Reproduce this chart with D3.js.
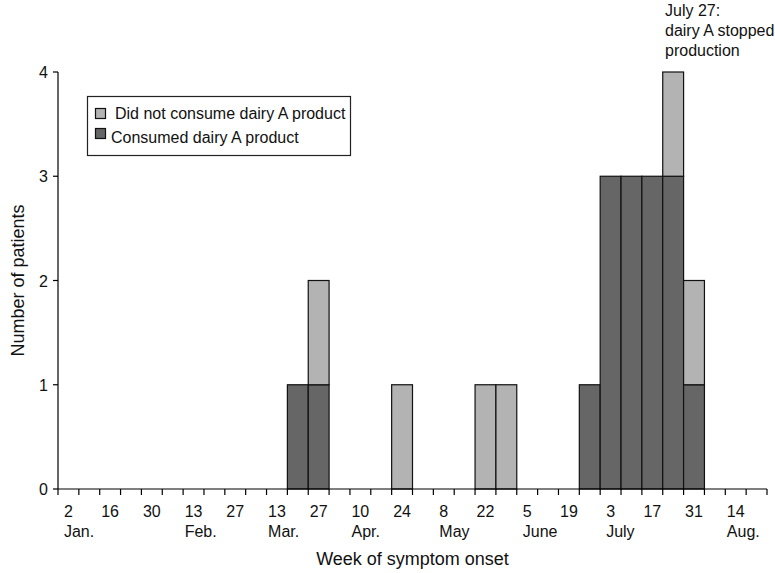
<!DOCTYPE html>
<html>
<head>
<meta charset="utf-8">
<script src="https://cdn.jsdelivr.net/npm/d3@7"></script>
<style>
  html, body { margin: 0; padding: 0; background: #fff; }
  svg { display: block; font-family: "Liberation Sans", Arial, Helvetica, sans-serif; }
</style>
</head>
<body>
<svg id="chart" width="775" height="573"></svg>
<script>
// ---- data ----
const nWeeks = 34; // weekly bins starting Jan 2
const consumed =    [0,0,0,0,0,0,0,0,0,0,0,1,1,0,0,0,0,0,0,0,0,0,0,0,0,1,3,3,3,3,1,0,0,0];
const notConsumed = [0,0,0,0,0,0,0,0,0,0,0,0,1,0,0,0,1,0,0,0,1,1,0,0,0,0,0,0,0,1,1,0,0,0];
const tickDays =   ["2","16","30","13","27","13","27","10","24","8","22","5","19","3","17","31","14"];
const tickMonths = ["Jan.","","","Feb.","","Mar.","","Apr.","","May","","June","","July","","","Aug."];
const yTicks = [0,1,2,3,4];
const seriesNames = ["Did not consume dairy A product","Consumed dairy A product"];
const seriesColors = ["#b3b3b3","#666666"];
const annotation = ["July 27:","dairy A stopped","production"];

// ---- layout ----
const svg = d3.select("#chart");
const mLeft = 58, mRight = 767, mTop = 72, mBottom = 489;

const x = d3.scaleLinear().domain([0, nWeeks]).range([mLeft, mRight]);
const y = d3.scaleLinear().domain([0, 4]).range([mBottom, mTop]);

const rows = d3.range(nWeeks).map(i => ({i, consumed: consumed[i], notConsumed: notConsumed[i]}));
const stack = d3.stack().keys(["consumed","notConsumed"])(rows);
const colorFor = {consumed: seriesColors[1], notConsumed: seriesColors[0]};

// bars
stack.forEach(layer => {
  svg.append("g")
    .selectAll("rect")
    .data(layer.filter(d => d[1] - d[0] > 0))
    .join("rect")
    .attr("x", d => x(d.data.i))
    .attr("width", d => x(d.data.i + 1) - x(d.data.i))
    .attr("y", d => y(d[1]))
    .attr("height", d => y(d[0]) - y(d[1]))
    .attr("fill", colorFor[layer.key])
    .attr("stroke", "#111")
    .attr("stroke-width", 1.2);
});

// x axis
const xAxis = svg.append("g");
xAxis.append("line")
  .attr("x1", mLeft).attr("x2", mRight).attr("y1", mBottom).attr("y2", mBottom)
  .attr("stroke", "#000").attr("stroke-width", 1.2);
xAxis.selectAll("line.tick")
  .data(d3.range(nWeeks + 1))
  .join("line").attr("class","tick")
  .attr("x1", d => x(d)).attr("x2", d => x(d))
  .attr("y1", mBottom).attr("y2", mBottom + 6)
  .attr("stroke", "#000").attr("stroke-width", 1.2);

tickDays.forEach((day, k) => {
  const c = x(2 * k + 0.5);
  const g = xAxis.append("g");
  const t = g.append("text").attr("x", c).attr("y", 517)
    .attr("text-anchor", "middle").attr("font-size", 16).attr("fill", "#111").text(day);
  if (tickMonths[k]) {
    const w = t.node().getComputedTextLength();
    g.append("text").attr("x", c - w / 2).attr("y", 537)
      .attr("font-size", 16).attr("fill", "#111").text(tickMonths[k]);
  }
});

svg.append("text")
  .attr("x", (mLeft + mRight) / 2).attr("y", 565)
  .attr("text-anchor", "middle").attr("font-size", 18).attr("fill", "#111")
  .text("Week of symptom onset");

// y axis
const yAxis = svg.append("g");
yAxis.append("line")
  .attr("x1", mLeft).attr("x2", mLeft).attr("y1", mTop).attr("y2", mBottom)
  .attr("stroke", "#000").attr("stroke-width", 1.2);
yAxis.selectAll("line.tick")
  .data(yTicks).join("line").attr("class","tick")
  .attr("x1", mLeft - 5).attr("x2", mLeft)
  .attr("y1", d => y(d)).attr("y2", d => y(d))
  .attr("stroke", "#000").attr("stroke-width", 1.2);
yAxis.selectAll("text")
  .data(yTicks).join("text")
  .attr("x", mLeft - 10).attr("y", d => y(d) + 6)
  .attr("text-anchor", "end").attr("font-size", 16).attr("fill", "#111")
  .text(d => d);

svg.append("text")
  .attr("transform", `translate(24,${(mTop + mBottom) / 2}) rotate(-90)`)
  .attr("text-anchor", "middle").attr("font-size", 18).attr("fill", "#111")
  .text("Number of patients");

// legend
const lg = svg.append("g");
lg.append("rect").attr("x", 87.5).attr("y", 96.5).attr("width", 263).attr("height", 59)
  .attr("fill", "#fff").attr("stroke", "#222").attr("stroke-width", 1.2);
seriesNames.forEach((name, k) => {
  lg.append("rect").attr("x", 95.5).attr("y", 108.5 + k * 20).attr("width", 10).attr("height", 10)
    .attr("fill", seriesColors[k]).attr("stroke", "#111").attr("stroke-width", 1.2);
  lg.append("text").attr("x", k === 0 ? 115 : 111).attr("y", 119 + k * 24)
    .attr("font-size", 16).attr("fill", "#111").text(name);
});

// annotation
const an = svg.append("text").attr("font-size", 16).attr("fill", "#111");
annotation.forEach((line, k) => {
  an.append("tspan").attr("x", 665).attr("y", 16 + k * 20).text(line);
});
</script>
</body>
</html>
